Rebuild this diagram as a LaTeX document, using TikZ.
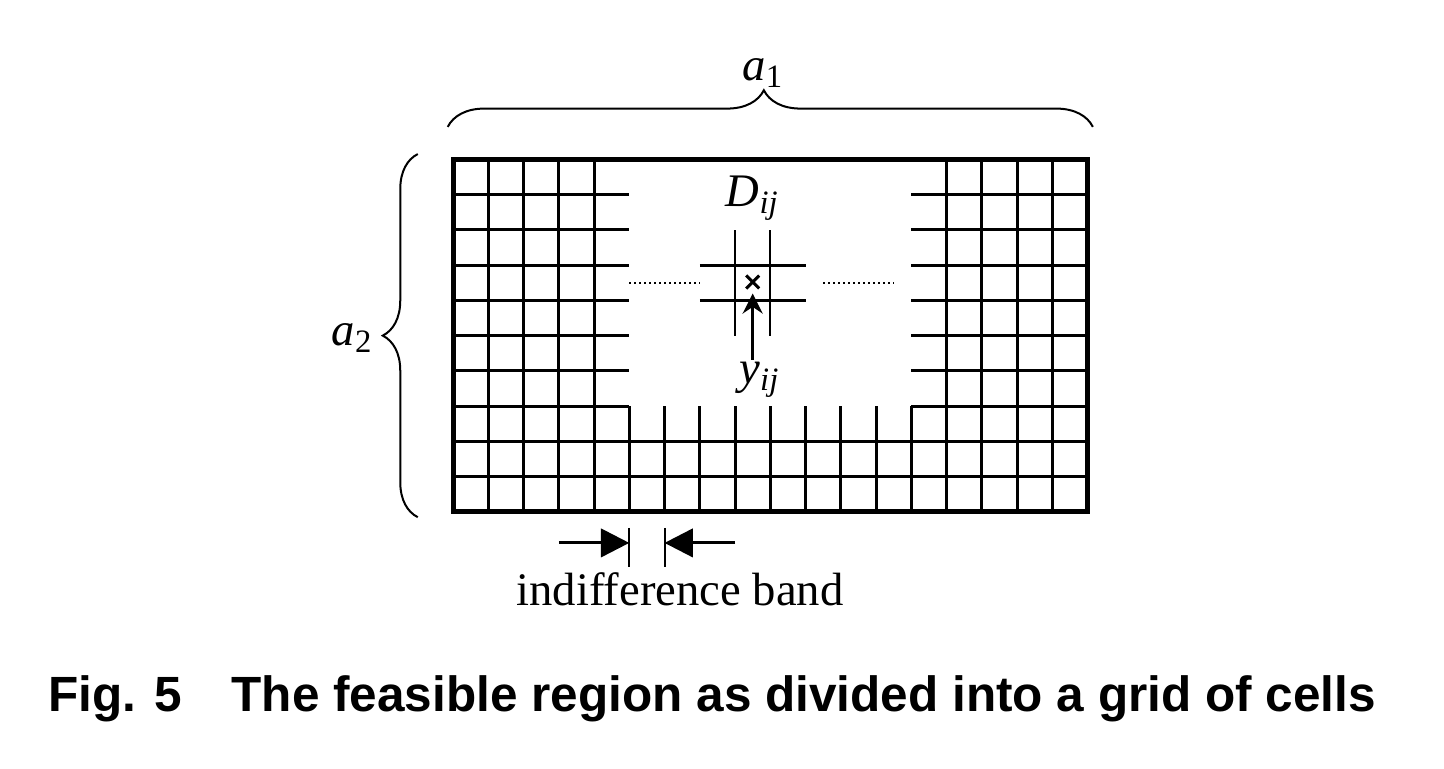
\documentclass[tikz,border=0pt]{standalone}
\usepackage{fontspec}
\setmainfont{Liberation Serif}
\newfontfamily\capfont{Liberation Sans}
\usetikzlibrary{arrows.meta,decorations.pathreplacing,shapes.misc}
\begin{document}
\begin{tikzpicture}
    [x=10.575pt, y=10.575pt,
     border/.style={draw, line width=1.5pt},
     cell/.style={draw, line width=0.9pt},
     finecell/.style={draw, line width=0.6pt},
     guide/.style={draw, line width=0.5pt, densely dotted},
     bracket/.style={draw, line width=0.6pt, decorate, decoration={brace, amplitude=11pt}},
     lbl/.style={font=\fontsize{14}{16}\selectfont, inner sep=0pt}]
    \useasboundingbox (-12.85,-7.29) rectangle (28.11,14.52);
    % grid of cells with the empty middle
    \foreach \y in {1,2} \draw[cell] (0,\y) -- (18,\y);
    \foreach \y in {3,...,9} \draw[cell] (0,\y) -- (5,\y) (13,\y) -- (18,\y);
    \foreach \x in {1,2,3,4,14,15,16,17} \draw[cell] (\x,0) -- (\x,10);
    \foreach \x in {5,...,13} \draw[cell] (\x,0) -- (\x,3);
    \draw[border] (0,0) rectangle (18,10);
    % the cell D_ij
    \draw[finecell] (8,5) -- (8,8) (9,5) -- (9,8);
    \draw[cell] (7,6) -- (10,6) (7,7) -- (10,7);
    \node[cross out, draw, line width=0.9pt, minimum size=3pt, inner sep=0pt] (xij) at (8.5,6.52) {};
    \node[lbl] (dlbl) at (8.5,8.9) {\textit{D}\textsubscript{\textit{ij}}};
    \node[lbl] (ylbl) at (8.7,3.75) {\textit{y}\textsubscript{\textit{ij}}};
    \coordinate (ytail) at (8.5,4.31);
    \draw[cell, -{Stealth[length=6pt, width=6pt, inset=2pt]}] (ytail) -- ([yshift=-1.5pt]xij.south);
    % dotted guides
    \coordinate (gl1) at (5,6.5);  \coordinate (gl2) at (7,6.5);
    \coordinate (gr1) at (10.5,6.5); \coordinate (gr2) at (12.5,6.5);
    \draw[guide] (gl1) -- (gl2);
    \draw[guide] (gr1) -- (gr2);
    % braces
    \draw[bracket, decoration={aspect=0.49}] (-0.15,10.92) -- (18.15,10.92);
    \draw[bracket, decoration={amplitude=10.5pt}] (-1,-0.15) -- (-1,10.15);
    \node[lbl] (a1lbl) at (8.8,12.45) {\textit{a}\textsubscript{1}};
    \node[lbl] (a2lbl) at (-2.85,4.94) {\textit{a}\textsubscript{2}};
    % indifference band
    \coordinate (bt1) at (5,-0.45); \coordinate (bb1) at (5,-1.56);
    \coordinate (bt2) at (6,-0.45); \coordinate (bb2) at (6,-1.56);
    \coordinate (bl) at (3,-0.88); \coordinate (br) at (8,-0.88);
    \draw[finecell] (bt1) -- (bb1) (bt2) -- (bb2);
    \draw[cell, -{Triangle[length=8.5pt, width=8.5pt]}] (bl) -- (bl -| bt1);
    \draw[cell, -{Triangle[length=8.5pt, width=8.5pt]}] (br) -- (br -| bt2);
    \node[lbl, anchor=base] (band) at (6.44,-2.66) {indifference band};
    \node[font=\capfont\bfseries\fontsize{14.85}{18}\selectfont, anchor=base, inner sep=0pt] (caption) at (7.35,-5.67)
        {Fig. 5\quad The feasible region as divided into a grid of cells};
\end{tikzpicture}
\end{document}
